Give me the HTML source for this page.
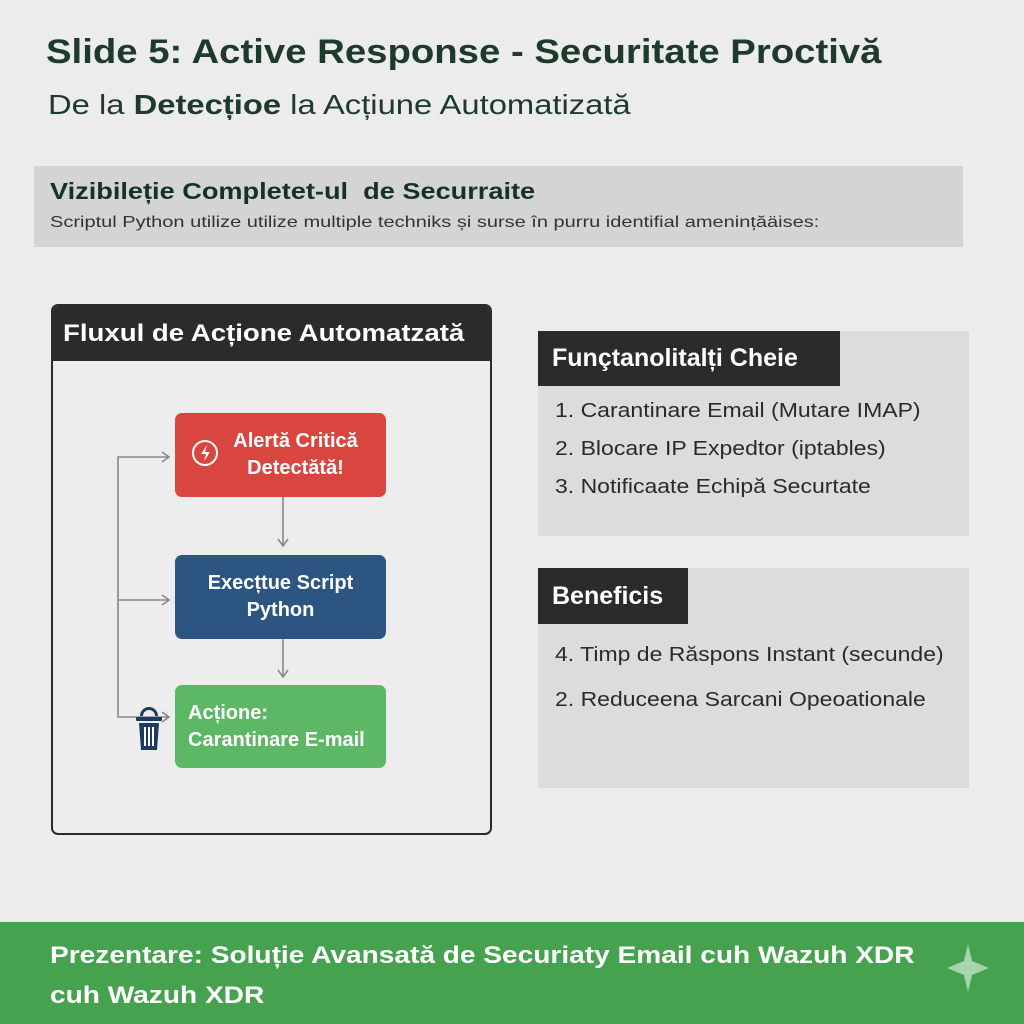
<!DOCTYPE html>
<html><head><meta charset="utf-8"><style>
*{margin:0;padding:0;box-sizing:border-box}
body{width:1024px;height:1024px;background:#ececec;position:relative;overflow:hidden;font-family:"Liberation Sans","DejaVu Sans",sans-serif}
.a{position:absolute;transform-origin:left center;white-space:nowrap}
.t1{left:46px;top:33px;font-size:34px;font-weight:bold;color:#1d3a2a;transform:scaleX(1.127)}
.t2{left:48px;top:89px;font-size:28px;color:#1d3a2a;transform:scaleX(1.17)}
.band{left:34px;top:166px;width:929px;height:81px;background:#d4d4d4}
.box{position:absolute;border-radius:7px;color:#fff;font-weight:bold;font-size:20px;text-align:center;display:flex;align-items:center;justify-content:center;line-height:27px}
.card{background:#dcdcdc}
.hd{background:#2b2b2b;color:#fff;font-weight:bold;font-size:25px;padding-left:14px;display:flex;align-items:center}
.li{font-size:20px;color:#2a2a2a;transform:scaleX(1.15)}
</style></head><body>
<div class="a t1">Slide 5: Active Response - Securitate Proctivă</div>
<div class="a t2">De la <b>Detecțioe</b> la Acțiune Automatizată</div>
<div class="a band"></div>
<div class="a" style="left:50px;top:178px;font-size:23px;font-weight:bold;color:#143324;transform:scaleX(1.18)">Vizibileție Completet-ul&nbsp; de Securraite</div>
<div class="a" style="left:50px;top:214px;font-size:16px;color:#333;transform:scaleX(1.25)">Scriptul Python utilize utilize multiple techniks și surse în purru identifial amenințăäises:</div>

<div class="a" style="left:51px;top:304px;width:441px;height:531px;border:2px solid #2b2b2b;border-radius:7px;background:#ededed;overflow:hidden">
<div class="hd" style="height:55px;padding-left:10px"><span style="font-size:24px;display:inline-block;transform:scaleX(1.15);transform-origin:left center">Fluxul de Acțione Automatzată</span></div>
</div>
<div class="box" style="left:175px;top:413px;width:211px;height:84px;background:#d94640;padding-left:30px">Alertă Critică<br>Detectătă!</div>
<div class="box" style="left:175px;top:555px;width:211px;height:84px;background:#2c5582">Execțtue Script<br>Python</div>
<div class="box" style="left:175px;top:685px;width:211px;height:83px;background:#5cb865;justify-content:flex-start;text-align:left;padding-left:13px">Acțione:<br>Carantinare E-mail</div>

<div class="a card" style="left:538px;top:331px;width:431px;height:205px"></div>
<div class="a hd" style="left:538px;top:331px;width:302px;height:55px">Funçtanolitalți Cheie</div>
<div class="a li" style="left:555px;top:400px">1. Carantinare Email (Mutare IMAP)</div>
<div class="a li" style="left:555px;top:438px">2. Blocare IP Expedtor (iptables)</div>
<div class="a li" style="left:555px;top:476px">3. Notificaate Echipă Securtate</div>

<div class="a card" style="left:538px;top:568px;width:431px;height:220px"></div>
<div class="a hd" style="left:538px;top:568px;width:150px;height:56px">Beneficis</div>
<div class="a li" style="left:555px;top:644px">4. Timp de Răspons Instant (secunde)</div>
<div class="a li" style="left:555px;top:689px">2. Reduceena Sarcani Opeoationale</div>

<div class="a" style="left:0;top:922px;width:1024px;height:102px;background:#46a24f"></div>
<div class="a" style="left:50px;top:936px;font-size:24px;font-weight:bold;color:#fff;line-height:40px;transform:scaleX(1.17);transform-origin:left top">Prezentare: Soluție Avansată de Securiaty Email cuh Wazuh XDR<br>cuh Wazuh XDR</div>

<svg class="a" style="left:0;top:0;z-index:5" width="1024" height="1024">
<g stroke="#888" stroke-width="1.6" fill="none">
<path d="M168 457H118V717H168"/><path d="M118 600H168"/>
<path d="M283 497V545"/><path d="M283 639V676"/>
<path d="M162 452l7 5-7 5M162 595l7 5-7 5M162 712l7 5-7 5M278 539l5 7 5-7M278 670l5 7 5-7"/>
</g>
<circle cx="205" cy="453" r="12" fill="none" stroke="#fff" stroke-width="2"/>
<path d="M207 445l-6 9h5l-2 7 6-9h-5z" fill="#fff"/>
<g fill="#1f3a5f"><path d="M140 716a9 9 0 0 1 18 0h-3a6 6 0 0 0-12 0z"/><rect x="136" y="717" width="26" height="4" rx="1"/><path d="M139 723h20l-2 27h-16z"/></g>
<g stroke="#fff" stroke-width="2"><path d="M145 727v19M149 727v19M153 727v19"/></g>
<path d="M968 944l4 17 17 7-17 7-4 17-4-17-17-7 17-7z" fill="#a8d5ad"/>
</svg>
</body></html>
